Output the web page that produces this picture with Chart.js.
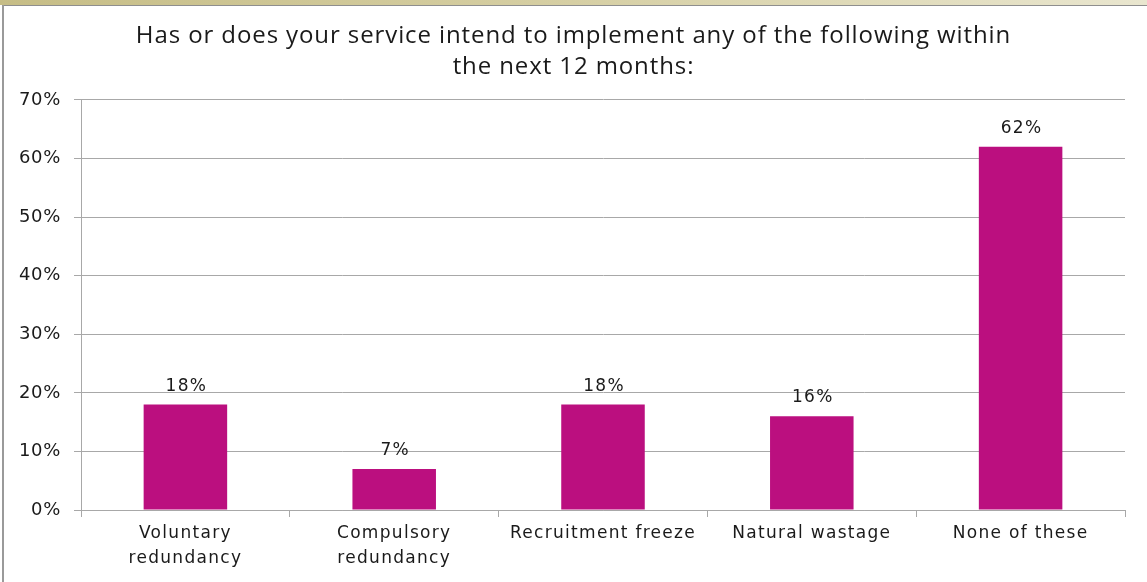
<!DOCTYPE html>
<html>
<head>
<meta charset="utf-8">
<title>Service plans for the next 12 months</title>
<script src="https://cdn.jsdelivr.net/npm/chart.js@4/dist/chart.umd.min.js"></script>
<style>
  html, body { margin: 0; padding: 0; background: #ffffff; }
  #frame { position: relative; width: 1147px; height: 582px; overflow: hidden; background: #ffffff; }
  #band { position: absolute; left: 0; top: 0; width: 1147px; height: 5px;
          background: linear-gradient(to right, #c6bd86 0%, #d6cfa4 50%, #e9e6cf 100%); }
  #rule { position: absolute; left: 2px; top: 5px; width: 1145px; height: 1px; background: #8e8e8e; }
  #side { position: absolute; left: 2px; top: 5px; width: 2px; height: 577px; background: #9a9a9a; }
  canvas { position: absolute; left: 0; top: 0; }
</style>
</head>
<body>
<div id="frame">
  <div id="band"></div>
  <div id="rule"></div>
  <div id="side"></div>
  <canvas id="chart" width="1147" height="582"></canvas>
</div>
<script>
// Survey answers: share of services planning each measure
const categories = [
  ["Voluntary", "redundancy"],
  ["Compulsory", "redundancy"],
  "Recruitment freeze",
  "Natural wastage",
  "None of these"
];
const shares = [18, 7, 18, 16, 62];
const yTicks = [0, 10, 20, 30, 40, 50, 60, 70];
const titleLines = [
  "Has or does your service intend to implement any of the following within",
  "the next 12 months:"
];

const barColour = "#bb0f7f";
const gridColour = "#a8a8a8";
const textColour = "#1a1a1a";
const tickFont = "'DejaVu Sans', Verdana, sans-serif";

// Slightly widened lettering for the title, axis labels and value labels
const spacing = { title: "0.9px", x: "1.3px", y: "0.7px", values: "1.3px" };

function withSpacing(ctx, sp, fn) {
  const prev = ctx.letterSpacing;
  ctx.letterSpacing = sp;
  fn();
  ctx.letterSpacing = prev || "0px";
}

const letterSpacing = {
  id: "letterSpacing",
  beforeLayout(chart) {
    chart.boxes.forEach(box => {
      if (box._spaced) return;
      const sp = box === chart.titleBlock ? spacing.title : spacing[box.id];
      if (!sp) return;
      const draw = box.draw;
      box.draw = function (area) {
        withSpacing(chart.ctx, sp, () => draw.call(this, area));
      };
      box._spaced = true;
    });
  }
};

// Writes each bar's percentage just above its top
const valueLabels = {
  id: "valueLabels",
  afterDatasetsDraw(chart) {
    const ctx = chart.ctx;
    const meta = chart.getDatasetMeta(0);
    ctx.save();
    ctx.font = "17px " + tickFont;
    ctx.fillStyle = textColour;
    ctx.textAlign = "center";
    ctx.textBaseline = "alphabetic";
    withSpacing(ctx, spacing.values, () => {
      meta.data.forEach((bar, i) => {
        ctx.fillText(shares[i] + "%", bar.x + 1, bar.y - 14);
      });
    });
    ctx.restore();
  }
};

new Chart(document.getElementById("chart"), {
  type: "bar",
  data: {
    labels: categories,
    datasets: [{
      data: shares,
      backgroundColor: barColour,
      borderWidth: 0,
      barPercentage: 0.4,
      categoryPercentage: 1.0
    }]
  },
  options: {
    responsive: false,
    animation: false,
    devicePixelRatio: 1,
    layout: { padding: 0 },
    plugins: {
      legend: { display: false },
      tooltip: { enabled: false },
      title: {
        display: true,
        text: titleLines,
        color: textColour,
        font: { family: "'Open Sans', sans-serif", size: 24, weight: "normal", lineHeight: 1.27 },
        padding: { top: 21, bottom: 18 }
      }
    },
    scales: {
      y: {
        min: 0,
        max: 70,
        afterBuildTicks(scale) {
          scale.ticks = yTicks.map(v => ({ value: v }));
        },
        afterFit(scale) { scale.width = 81; },
        ticks: {
          callback: v => v + "%",
          color: textColour,
          font: { family: tickFont, size: 18 },
          padding: 13
        },
        grid: {
          color: gridColour,
          lineWidth: 1,
          drawTicks: true,
          tickLength: 7
        },
        border: { display: true, color: gridColour, width: 1 }
      },
      // empty margin on the right of the plot
      yRight: {
        position: "right",
        min: 0,
        max: 70,
        afterFit(scale) { scale.width = 22; },
        ticks: { display: false },
        grid: { display: false },
        border: { display: false }
      },
      x: {
        afterFit(scale) { scale.height = 72; },
        ticks: {
          color: textColour,
          font: { family: tickFont, size: 17, lineHeight: 1.42 },
          padding: 5,
          maxRotation: 0,
          autoSkip: false
        },
        grid: {
          offset: true,
          drawOnChartArea: false,
          drawTicks: true,
          tickLength: 7,
          color: gridColour
        },
        border: { display: true, color: gridColour, width: 1 }
      }
    }
  },
  plugins: [letterSpacing, valueLabels]
});
</script>
</body>
</html>
